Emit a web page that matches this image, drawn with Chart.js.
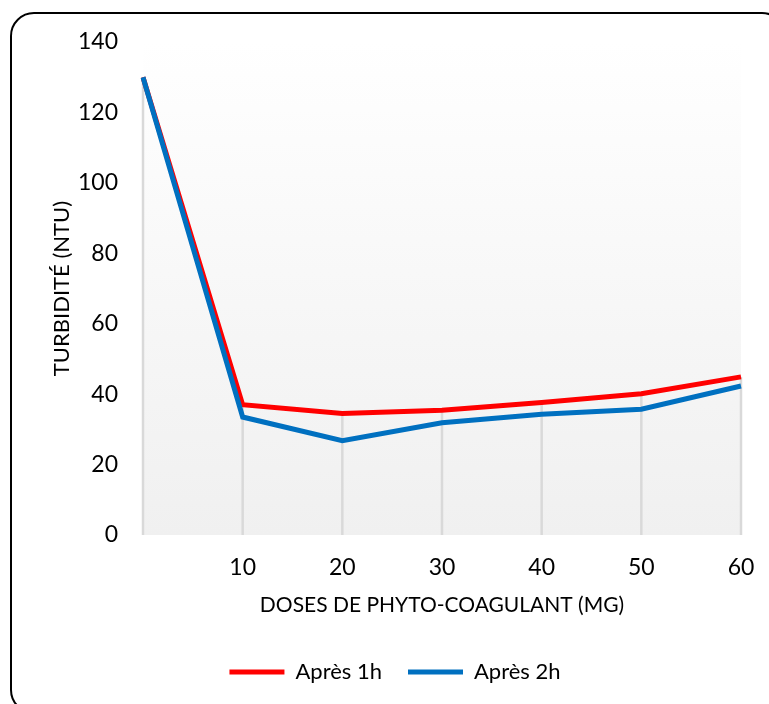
<!DOCTYPE html>
<html>
<head>
<meta charset="utf-8">
<script src="https://cdn.jsdelivr.net/npm/chart.js@4.4.0/dist/chart.umd.min.js"></script>
<style>
    html, body { margin: 0; padding: 0; background: #fff; overflow: hidden; }
    #wrap { position: relative; width: 769px; height: 704px; }
    #frame {
        position: absolute; left: 10px; top: 12px; width: 772px; height: 698px;
        border: 2px solid #000; border-radius: 24px; pointer-events: none;
    }
    canvas { position: absolute; left: 0; top: 0; }
</style>
</head>
<body>
<div id="wrap">
    <canvas id="chart" width="769" height="704"></canvas>
    <div id="frame"></div>
</div>
<script>
const doses = ['', '10', '20', '30', '40', '50', '60'];
const apres1h = [130, 37, 34.5, 35.4, 37.6, 40.1, 44.9];
const apres2h = [130, 33.5, 26.8, 31.9, 34.3, 35.7, 42.3];
const yTicks = [0, 20, 40, 60, 80, 100, 120, 140];

const FONT = 'Lato, "Open Sans", sans-serif';

// plot area gradient like the Excel fill
const plotBackground = {
    id: 'plotBackground',
    beforeDraw(chart) {
        const { ctx, chartArea: a } = chart;
        const g = ctx.createLinearGradient(0, a.top, 0, a.bottom);
        g.addColorStop(0, '#ffffff');
        g.addColorStop(1, '#f0f0f0');
        ctx.save();
        ctx.fillStyle = g;
        ctx.fillRect(a.left, a.top, a.right - a.left, a.bottom - a.top);
        ctx.restore();
    }
};

// drop lines from the highest series down to the axis
const dropLines = {
    id: 'dropLines',
    beforeDatasetsDraw(chart) {
        const { ctx, scales: { x, y } } = chart;
        ctx.save();
        ctx.strokeStyle = '#d9d9d9';
        ctx.lineWidth = 2.5;
        doses.forEach((_, i) => {
            const top = Math.max(apres1h[i], apres2h[i]);
            const px = x.getPixelForValue(i);
            ctx.beginPath();
            ctx.moveTo(px, y.getPixelForValue(top));
            ctx.lineTo(px, y.getPixelForValue(0));
            ctx.stroke();
        });
        ctx.restore();
    }
};

new Chart(document.getElementById('chart'), {
    type: 'line',
    data: {
        labels: doses,
        datasets: [
            {
                label: 'Après 1h',
                data: apres1h,
                borderColor: '#ff0000',
                backgroundColor: '#ff0000',
                borderWidth: 5,
                pointRadius: 0,
                tension: 0,
                order: 2
            },
            {
                label: 'Après 2h',
                data: apres2h,
                borderColor: '#0070c0',
                backgroundColor: '#0070c0',
                borderWidth: 5,
                pointRadius: 0,
                tension: 0,
                order: 1
            }
        ]
    },
    options: {
        responsive: false,
        animation: false,
        layout: { padding: { left: 49, right: 28, top: 42, bottom: 11 } },
        scales: {
            x: {
                offset: false,
                grid: { display: false, drawTicks: false },
                border: { display: false },
                ticks: { color: '#000', font: { family: FONT, size: 23 }, padding: 19, maxRotation: 0 },
                title: {
                    display: true,
                    text: 'DOSES DE PHYTO-COAGULANT (MG)',
                    color: '#000',
                    font: { family: FONT, size: 21 },
                    padding: { top: 4, bottom: 17 }
                },
                afterFit: s => { s.height = 100; s.paddingRight = 20; }
            },
            y: {
                min: 0,
                max: 140,
                afterBuildTicks: axis => { axis.ticks = yTicks.map(v => ({ value: v })); },
                grid: { display: false, drawTicks: false },
                border: { display: false },
                ticks: { color: '#000', font: { family: FONT, size: 23 }, padding: 25 },
                title: {
                    display: true,
                    text: 'TURBIDITÉ (NTU)',
                    color: '#000',
                    font: { family: FONT, size: 22 },
                    padding: { top: 0, bottom: 0 }
                },
                afterFit: s => { s.width = 94; }
            }
        },
        plugins: {
            legend: {
                position: 'bottom',
                labels: {
                    color: '#000',
                    font: { family: FONT, size: 22 },
                    boxWidth: 55,
                    boxHeight: 5,
                    padding: 26,
                    sort: (a, b) => a.datasetIndex - b.datasetIndex,
                    generateLabels: chart => Chart.defaults.plugins.legend.labels.generateLabels(chart)
                        .map(l => ({ ...l, lineWidth: 0 }))
                }
            },
            tooltip: { enabled: false }
        }
    },
    plugins: [plotBackground, dropLines]
});
</script>
</body>
</html>
